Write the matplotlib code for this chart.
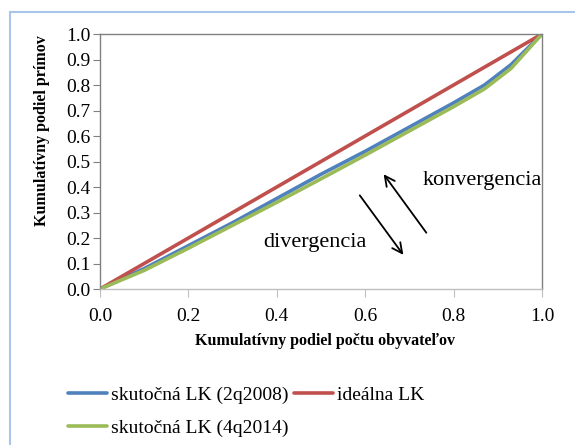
import matplotlib
matplotlib.use("Agg")
import matplotlib.pyplot as plt
from matplotlib.patches import Rectangle

plt.rcParams['font.family'] = ['Liberation Serif', 'DejaVu Serif']

x_pop = [0.0, 0.1, 0.2, 0.3, 0.4, 0.5, 0.6, 0.7, 0.8, 0.87, 0.93, 1.0]
lk_2008 = [0.0, 0.08, 0.17, 0.26, 0.355, 0.45, 0.54, 0.635, 0.73, 0.80, 0.88, 1.0]
lk_2014 = [0.0, 0.073, 0.16, 0.25, 0.34, 0.432, 0.525, 0.62, 0.715, 0.785, 0.865, 1.0]
x_ideal = [0.0, 1.0]
lk_ideal = [0.0, 1.0]

labels = ["skutočná LK (2q2008)", "ideálna LK", "skutočná LK (4q2014)"]
ticks = [0.0, 0.2, 0.4, 0.6, 0.8, 1.0]
yticks = [0.0, 0.1, 0.2, 0.3, 0.4, 0.5, 0.6, 0.7, 0.8, 0.9, 1.0]

W, H = 575, 445
fig = plt.figure(figsize=(W / 100, H / 100), dpi=100)
fig.patches.append(Rectangle((10 / W, -0.1), 1.2, 1 - 12 / H + 0.1, transform=fig.transFigure,
                             fill=False, edgecolor='#A9C5EA', linewidth=1.5))

ax = fig.add_axes([100 / W, 1 - 289 / H, 442 / W, 255 / H])
l1, = ax.plot(x_pop, lk_2008, color='#4F81BD', lw=2.6, solid_capstyle='round')
l2, = ax.plot(x_ideal, lk_ideal, color='#C0504D', lw=2.6, solid_capstyle='round')
l3, = ax.plot(x_pop, lk_2014, color='#9BBB59', lw=2.6, solid_capstyle='round')

ax.set_xlim(0, 1)
ax.set_ylim(0, 1)
ax.set_xticks(ticks)
ax.set_yticks(yticks)
ax.set_xticklabels([f"{t:.1f}" for t in ticks], fontsize=14)
ax.set_yticklabels([f"{t:.1f}" for t in yticks], fontsize=14)
for s in ax.spines.values():
    s.set_color('#808080')
    s.set_linewidth(1.0)
ax.spines['bottom'].set_color('#BFBFBF')
ax.tick_params(axis='x', direction='out', length=6, color='#BFBFBF', pad=8)
ax.tick_params(axis='y', direction='out', length=5, color='#808080', pad=2)
ax.set_xlabel("Kumulatívny podiel počtu obyvateľov", fontsize=11.5, fontweight='bold', va='center')
ax.set_ylabel("Kumulatívny podiel prímov", fontsize=11.5, fontweight='bold', va='center')
ax.xaxis.set_label_coords(0.509, -0.203)
ax.yaxis.set_label_coords(-0.131, 0.62)

ax.annotate("", xy=(0.638, 0.459), xytext=(0.742, 0.212),
            arrowprops=dict(arrowstyle='->', color='black', lw=1.3, mutation_scale=18))
ax.annotate("", xy=(0.690, 0.125), xytext=(0.584, 0.376),
            arrowprops=dict(arrowstyle='->', color='black', lw=1.3, mutation_scale=18))
ax.text(0.729, 0.425, "konvergencia", fontsize=16, ha='left', va='center')
ax.text(0.369, 0.184, "divergencia", fontsize=16, ha='left', va='center')

fig.legend([l1, l3, l2], [labels[0], labels[2], labels[1]], loc='upper left',
           bbox_to_anchor=(68 / W, 1 - 386 / H),
           ncol=2, frameon=False, fontsize=14, handlelength=2.0, handletextpad=0.2,
           columnspacing=0.3, labelspacing=0.8, borderaxespad=0, borderpad=0)

fig.savefig("out.png", dpi=100)
